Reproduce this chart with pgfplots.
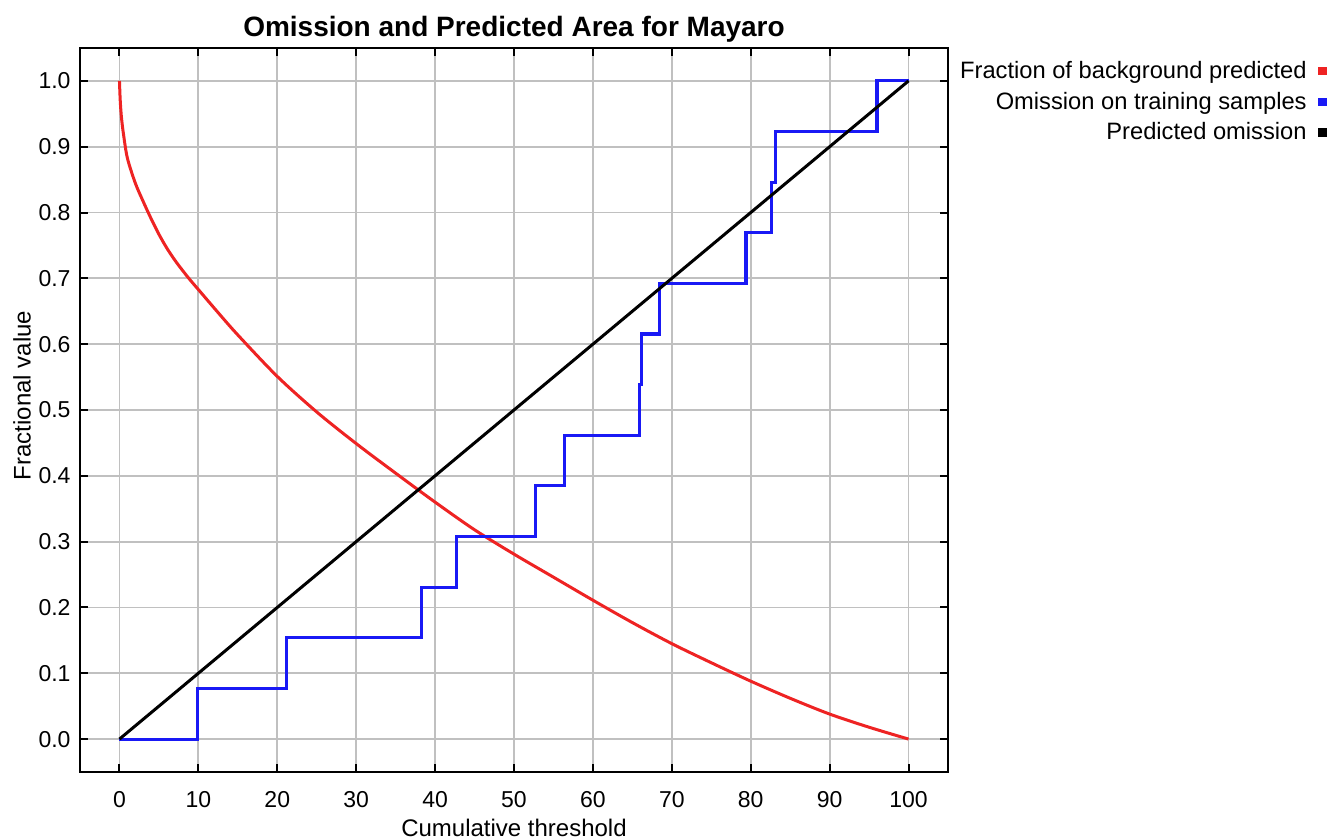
\documentclass[border=0pt]{standalone}
\usepackage{fontspec}
\setmainfont{Liberation Sans}
\usepackage{pgfplots}
\pgfplotsset{compat=1.18}

\definecolor{bgred}{RGB}{238,35,35}
\definecolor{trainblue}{RGB}{25,25,245}
\definecolor{gridgray}{RGB}{192,192,192}

\begin{document}
\begin{tikzpicture}[font=\fontsize{11.5}{13.8}\selectfont]
\useasboundingbox (-40pt,-34pt) rectangle (625pt,386pt);
\begin{axis}[
  at={(0pt,0pt)}, anchor=south west,
  scale only axis,
  width=434pt, height=362pt,
  xmin=-5, xmax=105,
  ymin=-0.05, ymax=1.05,
  xtick={0,10,...,100},
  ytick={0,0.1,...,1.0},
  /pgf/number format/assume math mode=true,
  yticklabel style={xshift=-1.2pt, /pgf/number format/fixed, /pgf/number format/fixed zerofill, /pgf/number format/precision=1},
  xticklabel style={yshift=-6pt},
  tick pos=both, tick align=inside,
  major tick length=4pt,
  every tick/.style={black, line width=1pt},
  axis line style={black, line width=1.2pt},
  grid=major,
  major grid style={gridgray, line width=0.9pt},
  title={\fontsize{14}{16}\selectfont\bfseries Omission and Predicted Area for Mayaro},
  title style={yshift=-6.5pt},
  xlabel={\fontsize{12}{14}\selectfont Cumulative threshold},
  xlabel style={at={(axis description cs:0.5,-0.077)}, anchor=center},
  ylabel={\fontsize{12}{14}\selectfont Fractional value},
  ylabel style={at={(axis description cs:-0.0668,0.52)}, anchor=center},
  legend plot pos=right,
  legend cell align=right,
  legend image code/.code={\path (0pt,0pt);\fill[#1, draw=none] (3.5pt,-2pt) rectangle (7.7pt,2.2pt);},
  legend style={at={(axis description cs:1.4366,0.9864)}, anchor=north east,
                draw=none, fill=none, inner sep=0pt, row sep=2.3pt,
                font=\fontsize{11.85}{14}\selectfont,
                nodes={inner sep=1.5pt}},
]
% Fraction of background predicted
\addplot[bgred, line width=1.5pt, smooth] coordinates {
  (0,1.0) (0.1,0.97) (0.25,0.945) (0.5,0.92) (1,0.883) (2,0.845)
  (3,0.817) (4,0.791) (5,0.767) (6,0.746) (7,0.728) (8,0.712) (9,0.697)
  (10,0.683) (12.5,0.648) (15,0.614)
  (20,0.551) (25,0.497) (30,0.449) (35,0.404) (40,0.360) (45,0.318)
  (50,0.281) (55,0.246) (60,0.211) (65,0.177) (70,0.145) (75,0.116)
  (80,0.088) (85,0.062) (90,0.038) (95,0.018) (100,0.0)
};
\addlegendentry{Fraction of background predicted}
% Omission on training samples
\addplot[trainblue, line width=1.55pt, const plot] coordinates {
  (0,0) (9.87,0.0769) (21.2,0.1538) (38.3,0.2308) (42.7,0.3077)
  (52.7,0.3846) (56.4,0.4615) (65.9,0.5385) (66.2,0.6154) (68.4,0.6923)
  (79.4,0.7692) (82.6,0.8462) (83.1,0.9231) (96.0,1.0) (100,1.0)
};
\addlegendentry{Omission on training samples}
% Predicted omission
\addplot[black, line width=1.5pt] coordinates {(0,0) (100,1)};
\addlegendentry{Predicted omission}
\end{axis}
\end{tikzpicture}
\end{document}
